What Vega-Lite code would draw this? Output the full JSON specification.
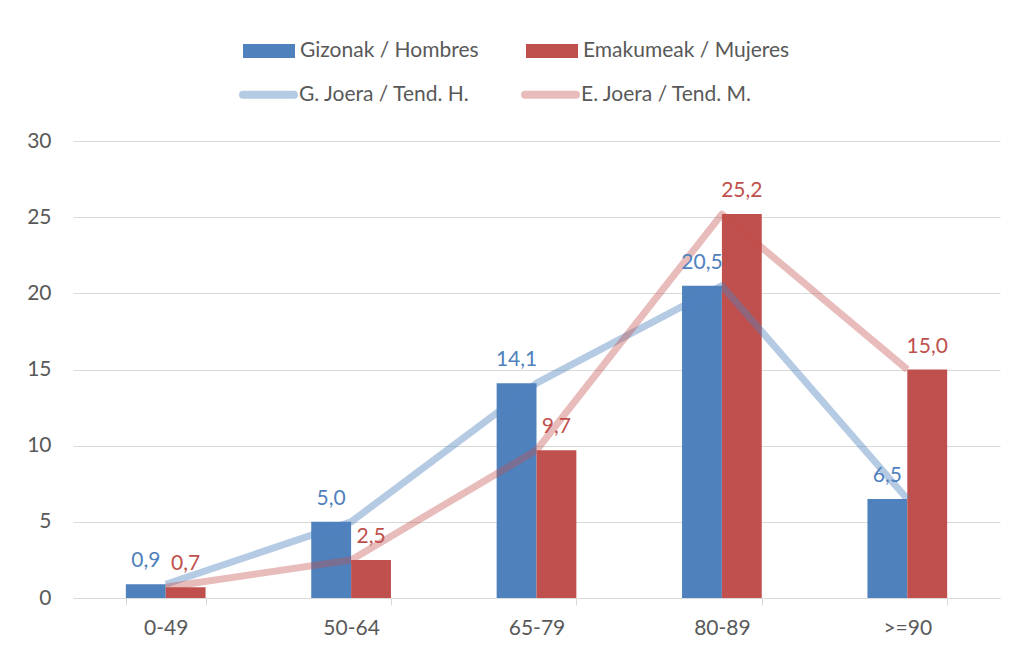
{
  "$schema": "https://vega.github.io/schema/vega-lite/v6.json",
  "autosize": {"type": "none"},
  "width": 927,
  "height": 457,
  "padding": {"left": 73, "top": 141, "right": 14, "bottom": 56},
  "background": "white",
  "config": {
    "view": {"stroke": null},
    "font": "Lato",
    "locale": {"number": {"decimal": ",", "thousands": ".", "grouping": [3], "currency": ["", " €"]}},
    "axis": {"labelFont": "Lato", "labelFontSize": 21, "labelColor": "#595959", "gridColor": "#D9D9D9", "domainColor": "#D9D9D9", "tickColor": "#D9D9D9"},
    "legend": {"labelFont": "Lato", "labelFontSize": 21, "labelColor": "#595959", "padding": 0, "labelLimit": 400}
  },
  "data": {
    "values": [
      {"age": "0-49", "sex": "Gizonak / Hombres", "trend": "G. Joera / Tend. H.", "value": 0.9},
      {"age": "50-64", "sex": "Gizonak / Hombres", "trend": "G. Joera / Tend. H.", "value": 5.0},
      {"age": "65-79", "sex": "Gizonak / Hombres", "trend": "G. Joera / Tend. H.", "value": 14.1},
      {"age": "80-89", "sex": "Gizonak / Hombres", "trend": "G. Joera / Tend. H.", "value": 20.5},
      {"age": ">=90", "sex": "Gizonak / Hombres", "trend": "G. Joera / Tend. H.", "value": 6.5},
      {"age": "0-49", "sex": "Emakumeak / Mujeres", "trend": "E. Joera / Tend. M.", "value": 0.7},
      {"age": "50-64", "sex": "Emakumeak / Mujeres", "trend": "E. Joera / Tend. M.", "value": 2.5},
      {"age": "65-79", "sex": "Emakumeak / Mujeres", "trend": "E. Joera / Tend. M.", "value": 9.7},
      {"age": "80-89", "sex": "Emakumeak / Mujeres", "trend": "E. Joera / Tend. M.", "value": 25.2},
      {"age": ">=90", "sex": "Emakumeak / Mujeres", "trend": "E. Joera / Tend. M.", "value": 15.0}
    ]
  },
  "encoding": {
    "x": {
      "field": "age", "type": "nominal", "sort": null,
      "scale": {"paddingInner": 0.57, "paddingOuter": 0.285},
      "axis": {"title": null, "labelAngle": 0, "tickBand": "extent", "tickSize": 7, "labelPadding": 12, "grid": false}
    },
    "y": {
      "field": "value", "type": "quantitative",
      "scale": {"domain": [0, 30], "nice": false},
      "axis": {"title": null, "values": [0, 5, 10, 15, 20, 25, 30], "domain": false, "ticks": false, "labelPadding": 22}
    }
  },
  "layer": [
    {
      "mark": {"type": "bar"},
      "encoding": {
        "xOffset": {"field": "sex", "type": "nominal", "sort": ["Gizonak / Hombres", "Emakumeak / Mujeres"], "scale": {"paddingInner": 0, "paddingOuter": 0}},
        "fill": {
          "field": "sex", "type": "nominal",
          "scale": {"domain": ["Gizonak / Hombres", "Emakumeak / Mujeres"], "range": ["#4F81BD", "#C0504D"]},
          "legend": {"title": null, "orient": "none", "direction": "horizontal", "legendX": 170, "legendY": -116, "symbolType": "M-1,-0.27H1V0.27H-1Z", "symbolSize": 2704, "symbolStrokeWidth": 0, "labelOffset": 5, "columnPadding": 47}
        }
      }
    },
    {
      "mark": {"type": "line", "strokeWidth": 7, "strokeJoin": "round"},
      "encoding": {
        "stroke": {
          "field": "trend", "type": "nominal",
          "scale": {"domain": ["G. Joera / Tend. H.", "E. Joera / Tend. M."], "range": ["rgba(79,129,189,0.42)", "rgba(192,80,77,0.38)"]},
          "legend": {"title": null, "orient": "none", "direction": "horizontal", "legendX": 166, "legendY": -76, "symbolType": "stroke", "symbolSize": 2601, "symbolStrokeWidth": 8, "labelOffset": 1, "columnPadding": 38,
            "encode": {"symbols": {"update": {"strokeCap": {"value": "round"}}}}}
        }
      }
    },
    {
      "mark": {"type": "text", "baseline": "alphabetic", "dy": -17, "fontSize": 21, "font": "Lato"},
      "encoding": {
        "xOffset": {"field": "sex", "type": "nominal", "sort": ["Gizonak / Hombres", "Emakumeak / Mujeres"]},
        "text": {"field": "value", "type": "quantitative", "format": ".1f"},
        "color": {
          "field": "sex", "type": "nominal",
          "scale": {"domain": ["Gizonak / Hombres", "Emakumeak / Mujeres"], "range": ["#4F81BD", "#C0504D"]},
          "legend": null
        }
      }
    }
  ]
}
